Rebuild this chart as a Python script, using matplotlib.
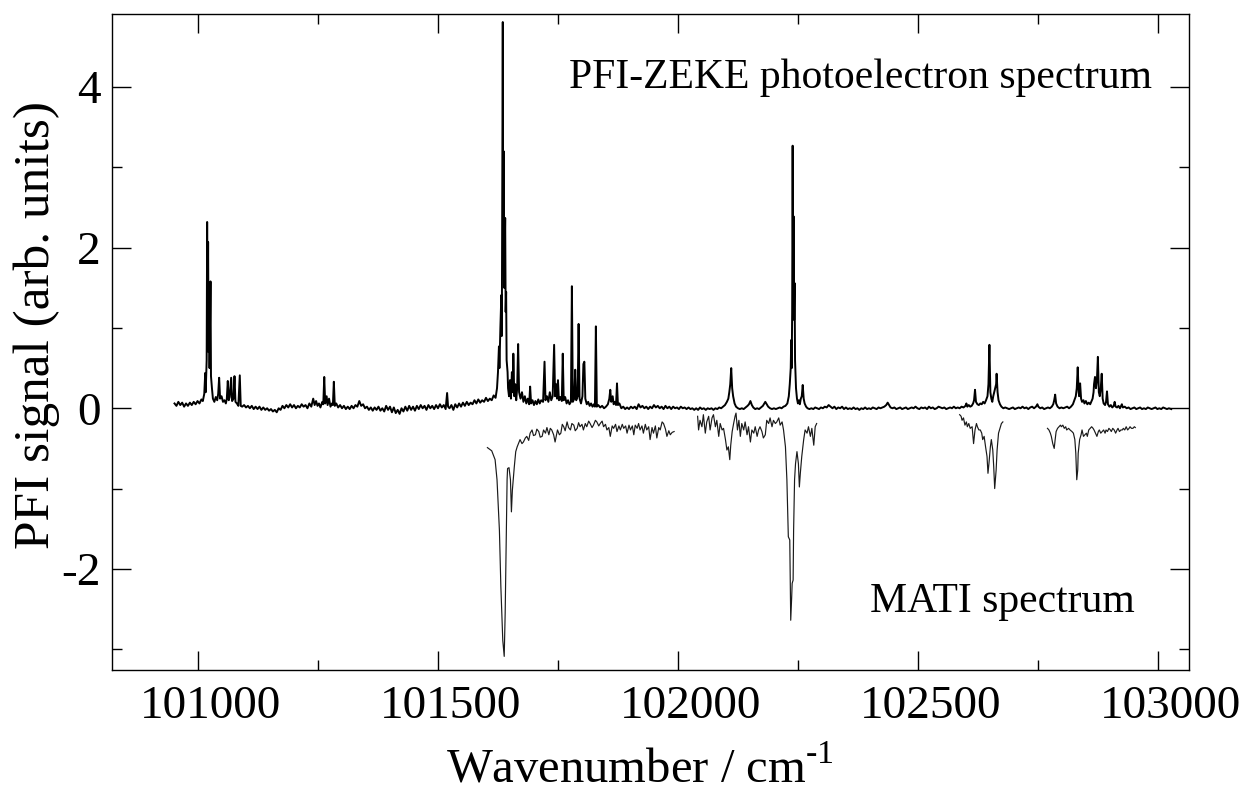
import matplotlib
matplotlib.use("Agg")
import matplotlib.pyplot as plt
import matplotlib.transforms as mtransforms
import numpy as np
from matplotlib.ticker import MultipleLocator

plt.rcParams['font.family'] = ['Liberation Serif', 'DejaVu Serif']
plt.rcParams['mathtext.fontset'] = 'custom'
plt.rcParams['mathtext.rm'] = 'Liberation Serif'
plt.rcParams['axes.unicode_minus'] = False

# PFI-ZEKE trace, (wavenumber / cm-1, signal), split by region
zeke_low = [
    (100951, 0.06), (100955, 0.03), (100959, 0.08), (100963, 0.04), (100967, 0.07), (100971, 0.02),
    (100975, 0.06), (100979, 0.03), (100983, 0.07), (100987, 0.04), (100991, 0.08), (100995, 0.05),
    (100999, 0.09), (101003, 0.06), (101007, 0.11), (101010, 0.09), (101013, 0.18), (101015, 0.44),
    (101016, 0.20), (101018, 0.60), (101019, 2.32), (101020, 0.90), (101021, 2.07), (101022, 0.70),
    (101023, 1.20), (101024, 0.50), (101026, 1.58), (101027, 0.40), (101029, 0.25), (101031, 0.12),
    (101034, 0.08), (101037, 0.14), (101040, 0.10), (101042, 0.18), (101044, 0.38), (101046, 0.12),
    (101049, 0.15), (101052, 0.08), (101055, 0.10), (101058, 0.06), (101060, 0.12), (101062, 0.34),
    (101064, 0.10), (101066, 0.14), (101069, 0.38), (101071, 0.09), (101074, 0.12), (101076, 0.40),
    (101078, 0.08), (101081, 0.06), (101084, 0.03), (101087, 0.41), (101089, 0.03), (101092, 0.02),
    (101096, 0.04), (101100, 0.01), (101104, 0.03), (101108, 0.00), (101112, 0.03), (101116, -0.01),
    (101120, 0.02), (101124, -0.01), (101128, 0.02), (101132, -0.02), (101136, 0.01), (101140, -0.02),
    (101144, 0.00), (101148, -0.03), (101152, -0.01), (101156, -0.04), (101160, -0.02), (101164, -0.05),
    (101168, 0.00), (101172, -0.02), (101176, 0.03), (101180, 0.00), (101184, 0.04), (101188, 0.01),
    (101192, 0.05), (101196, 0.01), (101200, 0.04), (101204, 0.00), (101208, 0.03), (101212, 0.01),
    (101216, 0.05), (101220, 0.02), (101224, 0.04), (101228, 0.00), (101232, 0.06), (101236, 0.02),
    (101240, 0.12), (101243, 0.04), (101246, 0.09), (101249, 0.03), (101252, 0.06), (101255, 0.01),
    (101259, 0.08), (101261, 0.05), (101263, 0.39), (101265, 0.06), (101268, 0.15), (101270, 0.04),
    (101273, 0.12), (101276, 0.02), (101279, 0.06), (101281, 0.04), (101283, 0.33), (101285, 0.03),
    (101288, 0.06), (101292, 0.01), (101296, 0.04), (101300, 0.00), (101304, 0.03), (101308, -0.01),
    (101312, 0.02), (101316, -0.01), (101320, 0.03), (101324, 0.00), (101328, 0.04), (101332, 0.02),
    (101336, 0.09), (101340, 0.03), (101344, 0.05), (101348, 0.00), (101352, 0.02), (101356, -0.02),
    (101360, 0.01), (101364, -0.03), (101368, 0.01), (101372, -0.02), (101376, 0.02), (101380, -0.03),
    (101384, 0.00), (101388, -0.04), (101392, 0.03), (101396, -0.02), (101400, 0.02), (101404, -0.05),
    (101408, 0.01), (101412, -0.06), (101416, -0.02), (101420, -0.07), (101424, 0.00), (101428, -0.04),
    (101432, 0.02), (101436, -0.03), (101440, 0.03), (101444, -0.02), (101448, 0.02), (101452, -0.03),
    (101456, 0.03), (101460, -0.01), (101464, 0.04), (101468, 0.00), (101472, 0.03), (101476, -0.02),
    (101480, 0.04), (101484, 0.00), (101488, 0.03), (101492, -0.01), (101496, 0.04), (101500, 0.00),
    (101504, 0.05), (101508, 0.01), (101512, 0.04), (101516, -0.01), (101519, 0.19), (101521, 0.02),
    (101524, 0.00), (101528, 0.04), (101532, -0.02), (101536, 0.05), (101540, 0.01), (101544, 0.06),
    (101548, 0.02), (101552, 0.07), (101556, 0.03), (101560, 0.08), (101564, 0.04), (101568, 0.07),
    (101572, 0.05), (101576, 0.10), (101580, 0.06), (101584, 0.11), (101588, 0.07), (101592, 0.10),
    (101596, 0.08), (101600, 0.13), (101604, 0.09), (101608, 0.12), (101612, 0.10), (101616, 0.16),
    (101620, 0.13),
]

zeke_mid = [
    (101623, 0.25), (101625, 0.45), (101627, 0.77), (101628, 0.50), (101630, 1.00), (101632, 1.41),
    (101633, 0.90), (101635, 4.81), (101636, 1.80), (101637, 3.20), (101638, 1.50), (101640, 2.37),
    (101641, 1.20), (101642, 1.45), (101643, 0.60), (101645, 0.45), (101646, 0.25), (101648, 0.15),
    (101650, 0.35), (101652, 0.12), (101654, 0.45), (101656, 0.20), (101657, 0.68), (101659, 0.15),
    (101661, 0.30), (101663, 0.10), (101665, 0.25), (101667, 0.80), (101669, 0.20), (101672, 0.12),
    (101675, 0.20), (101678, 0.08), (101681, 0.15), (101684, 0.06), (101687, 0.12), (101690, 0.05),
    (101692, 0.27), (101694, 0.06), (101697, 0.10), (101700, 0.04), (101703, 0.09), (101706, 0.05),
    (101709, 0.11), (101712, 0.06), (101715, 0.10), (101719, 0.08), (101722, 0.58), (101724, 0.10),
    (101727, 0.15), (101730, 0.08), (101733, 0.20), (101736, 0.10), (101739, 0.15), (101742, 0.79),
    (101744, 0.15), (101746, 0.30), (101748, 0.12), (101750, 0.35), (101752, 0.10), (101755, 0.14),
    (101758, 0.09), (101760, 0.68), (101762, 0.10), (101765, 0.14), (101768, 0.06), (101771, 0.10),
    (101774, 0.05), (101777, 0.08), (101779, 1.52), (101781, 0.08), (101784, 0.12), (101786, 0.48),
    (101788, 0.10), (101791, 0.15), (101793, 1.05), (101795, 0.12), (101798, 0.06), (101801, 0.15),
    (101803, 0.55), (101805, 0.58), (101807, 0.12), (101810, 0.05), (101813, 0.08), (101816, 0.03),
    (101819, 0.06), (101822, 0.02), (101825, 0.05), (101827, 0.02), (101829, 1.02), (101831, 0.02),
    (101834, 0.04), (101838, 0.01), (101842, 0.03), (101846, 0.00), (101850, 0.02), (101854, 0.05),
    (101857, 0.12), (101859, 0.23), (101861, 0.08), (101864, 0.15), (101866, 0.05), (101869, 0.08),
    (101871, 0.04), (101873, 0.31), (101875, 0.04), (101878, 0.06), (101882, 0.00), (101886, 0.02),
    (101890, -0.01), (101894, 0.01), (101898, -0.01), (101902, 0.02), (101906, 0.00), (101910, 0.02),
    (101914, -0.01), (101918, 0.05), (101922, 0.01), (101926, 0.03), (101930, 0.00), (101934, 0.02),
    (101938, -0.01), (101942, 0.02), (101946, 0.00), (101950, 0.04), (101954, 0.01), (101958, 0.03),
    (101962, 0.00), (101966, 0.02), (101970, -0.01), (101974, 0.03), (101978, 0.00), (101982, 0.02),
    (101986, -0.01), (101990, 0.02), (101994, 0.00), (101998, 0.01),
]

zeke_high = [
    (102002, -0.01), (102006, 0.02), (102010, 0.00), (102014, 0.01), (102018, -0.01), (102022, 0.01),
    (102026, -0.01), (102030, 0.00), (102034, -0.02), (102038, 0.00), (102042, -0.02), (102046, 0.01),
    (102050, -0.01), (102054, 0.00), (102058, -0.02), (102062, 0.00), (102066, -0.01), (102070, 0.00),
    (102074, -0.02), (102078, 0.00), (102082, -0.01), (102086, 0.01), (102090, 0.00), (102094, 0.02),
    (102098, 0.04), (102102, 0.08), (102105, 0.12), (102107, 0.20), (102109, 0.30), (102111, 0.50),
    (102113, 0.25), (102115, 0.15), (102118, 0.06), (102121, 0.02), (102125, 0.00), (102129, -0.01),
    (102133, 0.00), (102137, -0.01), (102141, 0.01), (102145, 0.03), (102148, 0.05), (102151, 0.09),
    (102154, 0.04), (102157, 0.01), (102161, -0.01), (102165, 0.00), (102169, -0.01), (102173, 0.01),
    (102177, 0.03), (102180, 0.06), (102182, 0.08), (102185, 0.05), (102188, 0.02), (102192, 0.00),
    (102196, -0.01), (102200, 0.00), (102204, -0.01), (102208, 0.00), (102212, 0.01), (102216, 0.00),
    (102220, 0.02), (102224, 0.03), (102228, 0.06), (102231, 0.15), (102233, 0.30), (102235, 0.50),
    (102236, 0.85), (102237, 0.50), (102238, 1.20), (102239, 3.27), (102240, 1.40), (102241, 2.39),
    (102242, 1.10), (102243, 1.56), (102244, 0.60), (102246, 0.25), (102248, 0.12), (102250, 0.06),
    (102252, 0.10), (102254, 0.05), (102256, 0.12), (102258, 0.15), (102260, 0.29), (102262, 0.12),
    (102264, 0.06), (102267, 0.02), (102270, 0.00), (102274, -0.01), (102278, 0.00), (102282, -0.01),
    (102286, 0.01), (102290, 0.00), (102294, -0.01), (102298, 0.01), (102302, 0.00), (102306, 0.02),
    (102310, 0.01), (102314, 0.04), (102318, 0.02), (102322, 0.00), (102326, 0.02), (102330, -0.01),
    (102334, 0.01), (102338, 0.00), (102342, 0.02), (102346, -0.01), (102350, 0.01), (102354, -0.01),
    (102358, 0.00), (102362, -0.01), (102366, 0.01), (102370, -0.01), (102374, 0.00), (102378, -0.02),
    (102382, 0.00), (102386, -0.01), (102390, 0.01), (102394, -0.01), (102398, 0.00), (102402, -0.01),
    (102406, 0.01), (102410, 0.00), (102414, -0.01), (102418, 0.01), (102422, 0.00), (102426, 0.01),
    (102430, 0.02), (102434, 0.04), (102437, 0.07), (102440, 0.04), (102443, 0.01), (102447, 0.00),
    (102451, 0.01), (102455, -0.01), (102459, 0.00), (102463, 0.01), (102467, -0.01), (102471, 0.00),
    (102475, 0.01), (102479, -0.01), (102483, 0.00), (102487, 0.01), (102491, 0.00), (102495, 0.02),
    (102499, 0.00), (102503, -0.01), (102507, 0.01), (102511, 0.00), (102515, 0.01), (102519, -0.01),
    (102523, 0.02), (102527, 0.00), (102531, 0.01), (102535, -0.01), (102539, 0.00), (102543, 0.02),
    (102547, 0.01), (102551, 0.00), (102555, 0.01), (102559, -0.01), (102563, 0.00), (102567, 0.01),
    (102571, 0.00), (102575, 0.02), (102579, 0.00), (102583, 0.01), (102587, 0.00), (102591, 0.02),
    (102595, 0.01), (102599, 0.03), (102601, 0.06), (102603, 0.02), (102606, 0.04), (102609, 0.02),
    (102612, 0.03), (102615, 0.06), (102617, 0.10), (102619, 0.23), (102621, 0.08), (102624, 0.05),
    (102627, 0.04), (102630, 0.06), (102633, 0.05), (102636, 0.08), (102639, 0.06), (102642, 0.10),
    (102645, 0.15), (102647, 0.30), (102649, 0.79), (102651, 0.20), (102653, 0.12), (102655, 0.08),
    (102657, 0.15), (102659, 0.20), (102661, 0.25), (102663, 0.30), (102664, 0.43), (102666, 0.20),
    (102668, 0.10), (102671, 0.05), (102674, 0.02), (102678, 0.00), (102682, 0.01), (102686, 0.00),
    (102690, -0.01), (102694, 0.00), (102698, 0.01), (102702, -0.01), (102706, 0.00), (102710, 0.01),
    (102714, 0.00), (102718, 0.02), (102722, 0.00), (102726, 0.01), (102730, -0.01), (102734, 0.01),
    (102738, 0.02), (102742, 0.00), (102746, 0.02), (102749, 0.05), (102751, 0.02), (102755, 0.00),
    (102759, 0.01), (102763, -0.01), (102767, 0.00), (102771, 0.01), (102775, 0.00), (102779, 0.02),
    (102782, 0.05), (102784, 0.10), (102786, 0.17), (102788, 0.06), (102791, 0.02), (102795, 0.00),
    (102799, 0.01), (102803, 0.00), (102807, 0.01), (102811, 0.02), (102815, 0.00), (102819, 0.02),
    (102823, 0.05), (102826, 0.10), (102829, 0.15), (102831, 0.25), (102833, 0.51), (102835, 0.20),
    (102836, 0.15), (102838, 0.31), (102840, 0.12), (102842, 0.08), (102845, 0.10), (102847, 0.06),
    (102850, 0.09), (102853, 0.05), (102856, 0.07), (102859, 0.05), (102862, 0.09), (102864, 0.12),
    (102866, 0.20), (102867, 0.30), (102869, 0.39), (102871, 0.25), (102873, 0.35), (102875, 0.64),
    (102877, 0.20), (102879, 0.15), (102881, 0.25), (102883, 0.43), (102885, 0.12), (102887, 0.06),
    (102890, 0.04), (102892, 0.08), (102894, 0.21), (102896, 0.05), (102899, 0.02), (102902, 0.04),
    (102905, 0.01), (102908, 0.03), (102910, 0.08), (102912, 0.02), (102915, 0.01), (102918, 0.03),
    (102921, 0.00), (102925, 0.05), (102927, 0.01), (102931, 0.02), (102935, 0.00), (102939, 0.01),
    (102943, -0.01), (102947, 0.00), (102951, 0.01), (102955, -0.01), (102959, 0.00), (102963, 0.01),
    (102967, -0.01), (102971, 0.00), (102975, -0.01), (102979, 0.01), (102983, 0.00), (102987, -0.01),
    (102991, 0.00), (102995, 0.01), (102999, -0.01), (103003, 0.00), (103007, -0.01), (103011, 0.01),
    (103015, 0.00), (103019, -0.01), (103023, 0.00), (103028, -0.01),
]

# MATI spectrum, recorded in four separate scans (plotted inverted)
mati_scan1 = [
    (101603, -0.49), (101612, -0.53), (101619, -0.64), (101623, -0.89), (101628, -1.52), (101631, -2.22),
    (101635, -2.89), (101638, -3.09), (101640, -2.55), (101642, -1.72), (101644, -0.89), (101645, -0.75),
    (101648, -0.74), (101651, -0.89), (101653, -1.29), (101655, -1.02), (101659, -0.73), (101662, -0.54),
    (101665, -0.48), (101671, -0.39), (101675, -0.44), (101678, -0.42), (101682, -0.37), (101685, -0.35),
    (101689, -0.40), (101692, -0.31), (101696, -0.27), (101699, -0.34), (101703, -0.33), (101706, -0.26),
    (101710, -0.29), (101713, -0.36), (101717, -0.35), (101720, -0.27), (101724, -0.31), (101727, -0.24),
    (101731, -0.33), (101734, -0.25), (101737, -0.27), (101741, -0.33), (101744, -0.42), (101749, -0.27),
    (101753, -0.33), (101756, -0.31), (101759, -0.20), (101762, -0.23), (101765, -0.28), (101769, -0.17),
    (101772, -0.24), (101776, -0.27), (101779, -0.19), (101783, -0.21), (101786, -0.28), (101790, -0.25),
    (101793, -0.18), (101796, -0.23), (101800, -0.20), (101803, -0.27), (101807, -0.19), (101810, -0.23),
    (101814, -0.16), (101817, -0.19), (101821, -0.24), (101824, -0.21), (101828, -0.15), (101831, -0.17),
    (101835, -0.22), (101838, -0.19), (101842, -0.16), (101845, -0.23), (101849, -0.20), (101852, -0.27),
    (101856, -0.24), (101859, -0.35), (101863, -0.22), (101866, -0.25), (101870, -0.20), (101873, -0.29),
    (101877, -0.22), (101880, -0.27), (101884, -0.20), (101887, -0.25), (101891, -0.22), (101894, -0.31),
    (101898, -0.21), (101901, -0.27), (101905, -0.22), (101908, -0.33), (101911, -0.21), (101915, -0.25),
    (101918, -0.19), (101921, -0.27), (101925, -0.22), (101928, -0.31), (101932, -0.20), (101935, -0.27),
    (101939, -0.23), (101942, -0.39), (101946, -0.24), (101949, -0.31), (101953, -0.22), (101956, -0.37),
    (101960, -0.24), (101963, -0.27), (101967, -0.17), (101970, -0.19), (101974, -0.26), (101977, -0.35),
    (101981, -0.28), (101984, -0.33), (101988, -0.30), (101992, -0.29),
]

mati_scan2 = [
    (102041, -0.10), (102043, -0.27), (102046, -0.15), (102050, -0.23), (102053, -0.08), (102057, -0.31),
    (102060, -0.17), (102064, -0.10), (102067, -0.27), (102071, -0.12), (102074, -0.08), (102078, -0.23),
    (102081, -0.15), (102085, -0.35), (102088, -0.19), (102092, -0.27), (102095, -0.25), (102099, -0.39),
    (102102, -0.52), (102105, -0.48), (102108, -0.64), (102110, -0.46), (102113, -0.29), (102116, -0.19),
    (102119, -0.10), (102121, -0.06), (102124, -0.27), (102127, -0.15), (102130, -0.35), (102133, -0.19),
    (102137, -0.27), (102140, -0.17), (102144, -0.33), (102147, -0.23), (102151, -0.42), (102154, -0.27),
    (102158, -0.31), (102161, -0.23), (102165, -0.35), (102168, -0.27), (102171, -0.23), (102175, -0.29),
    (102178, -0.37), (102182, -0.33), (102185, -0.15), (102189, -0.19), (102192, -0.12), (102196, -0.23),
    (102199, -0.15), (102203, -0.19), (102206, -0.17), (102210, -0.12), (102213, -0.21), (102217, -0.17),
    (102220, -0.27), (102224, -0.48), (102227, -0.89), (102230, -1.60), (102233, -1.64), (102234, -2.14),
    (102235, -2.64), (102237, -2.35), (102238, -2.18), (102240, -2.14), (102241, -1.52), (102243, -0.89),
    (102245, -0.69), (102248, -0.54), (102251, -0.69), (102253, -0.98), (102255, -0.81), (102258, -0.60),
    (102262, -0.39), (102265, -0.27), (102269, -0.31), (102272, -0.23), (102276, -0.35), (102279, -0.25),
    (102283, -0.46), (102286, -0.23), (102289, -0.19),
]

mati_scan3 = [
    (102587, -0.08), (102590, -0.10), (102592, -0.15), (102595, -0.12), (102598, -0.21), (102601, -0.17),
    (102603, -0.23), (102606, -0.19), (102609, -0.25), (102613, -0.23), (102616, -0.44), (102619, -0.27),
    (102622, -0.19), (102624, -0.23), (102627, -0.27), (102630, -0.27), (102633, -0.31), (102635, -0.39),
    (102638, -0.35), (102641, -0.48), (102644, -0.60), (102646, -0.81), (102648, -0.69), (102651, -0.48),
    (102653, -0.39), (102656, -0.52), (102658, -0.73), (102660, -1.00), (102663, -0.77), (102665, -0.52),
    (102668, -0.31), (102672, -0.23), (102674, -0.19), (102677, -0.17),
]

mati_scan4 = [
    (102770, -0.25), (102773, -0.27), (102776, -0.31), (102778, -0.35), (102781, -0.44), (102784, -0.50),
    (102786, -0.39), (102788, -0.29), (102791, -0.25), (102794, -0.23), (102797, -0.21), (102799, -0.23),
    (102802, -0.21), (102805, -0.25), (102808, -0.23), (102810, -0.27), (102814, -0.25), (102817, -0.27),
    (102821, -0.29), (102824, -0.31), (102827, -0.39), (102829, -0.56), (102831, -0.89), (102833, -0.77),
    (102834, -0.56), (102837, -0.39), (102840, -0.33), (102842, -0.27), (102845, -0.35), (102848, -0.33),
    (102851, -0.31), (102853, -0.35), (102856, -0.27), (102859, -0.25), (102862, -0.23), (102865, -0.25),
    (102867, -0.27), (102870, -0.31), (102873, -0.35), (102876, -0.29), (102878, -0.27), (102881, -0.31),
    (102884, -0.29), (102887, -0.27), (102890, -0.31), (102892, -0.27), (102895, -0.29), (102898, -0.25),
    (102901, -0.27), (102903, -0.29), (102906, -0.25), (102909, -0.27), (102912, -0.31), (102915, -0.27),
    (102917, -0.25), (102920, -0.29), (102923, -0.27), (102926, -0.27), (102928, -0.25), (102931, -0.27),
    (102934, -0.23), (102937, -0.27), (102940, -0.25), (102942, -0.23), (102945, -0.25), (102948, -0.25),
    (102951, -0.23), (102953, -0.24),
]

x_ticks = [101000, 101500, 102000, 102500, 103000]
y_ticks = [-2, 0, 2, 4]

zeke = np.array(zeke_low + zeke_mid + zeke_high)

fig = plt.figure(figsize=(12.46, 7.92), dpi=100)
ax = fig.add_axes([0.0896, 0.154, 0.8647, 0.8283])

ax.plot(zeke[:, 0], zeke[:, 1], color='black', lw=1.4)
for scan in (mati_scan1, mati_scan2, mati_scan3, mati_scan4):
    s = np.array(scan)
    ax.plot(s[:, 0], s[:, 1], color='#1a1a1a', lw=0.85)

ax.set_xlim(100820, 103065)
ax.set_ylim(-3.26, 4.91)
ax.set_xticks(x_ticks)
ax.set_yticks(y_ticks)
ax.xaxis.set_minor_locator(MultipleLocator(250))
ax.yaxis.set_minor_locator(MultipleLocator(1))
ax.tick_params(which='both', direction='in', top=True, right=True, width=1.0)
ax.tick_params(which='major', length=13.5, labelsize=34)
ax.tick_params(which='minor', length=7)
ax.tick_params(axis='x', which='major', pad=11)
ax.tick_params(axis='y', which='major', pad=8)
for sp in ax.spines.values():
    sp.set_linewidth(1.0)

# x tick labels sit a little right of their ticks
shift = mtransforms.ScaledTranslation(9 / 72, 0, fig.dpi_scale_trans)
for lbl in ax.get_xticklabels():
    lbl.set_transform(lbl.get_transform() + shift)

ax.set_xlabel(r'Wavenumber / cm$^{\text{-1}}$', fontsize=35)
ax.set_ylabel('PFI signal (arb. units)', fontsize=37)
ax.xaxis.set_label_coords(0.49, -0.118)
ax.yaxis.set_label_coords(-0.048, 0.526)

ax.text(0.9657, 0.887, 'PFI-ZEKE photoelectron spectrum', transform=ax.transAxes,
        ha='right', va='baseline', fontsize=30)
ax.text(0.950, 0.088, 'MATI spectrum', transform=ax.transAxes,
        ha='right', va='baseline', fontsize=30)

fig.savefig('out.png', dpi=100)
